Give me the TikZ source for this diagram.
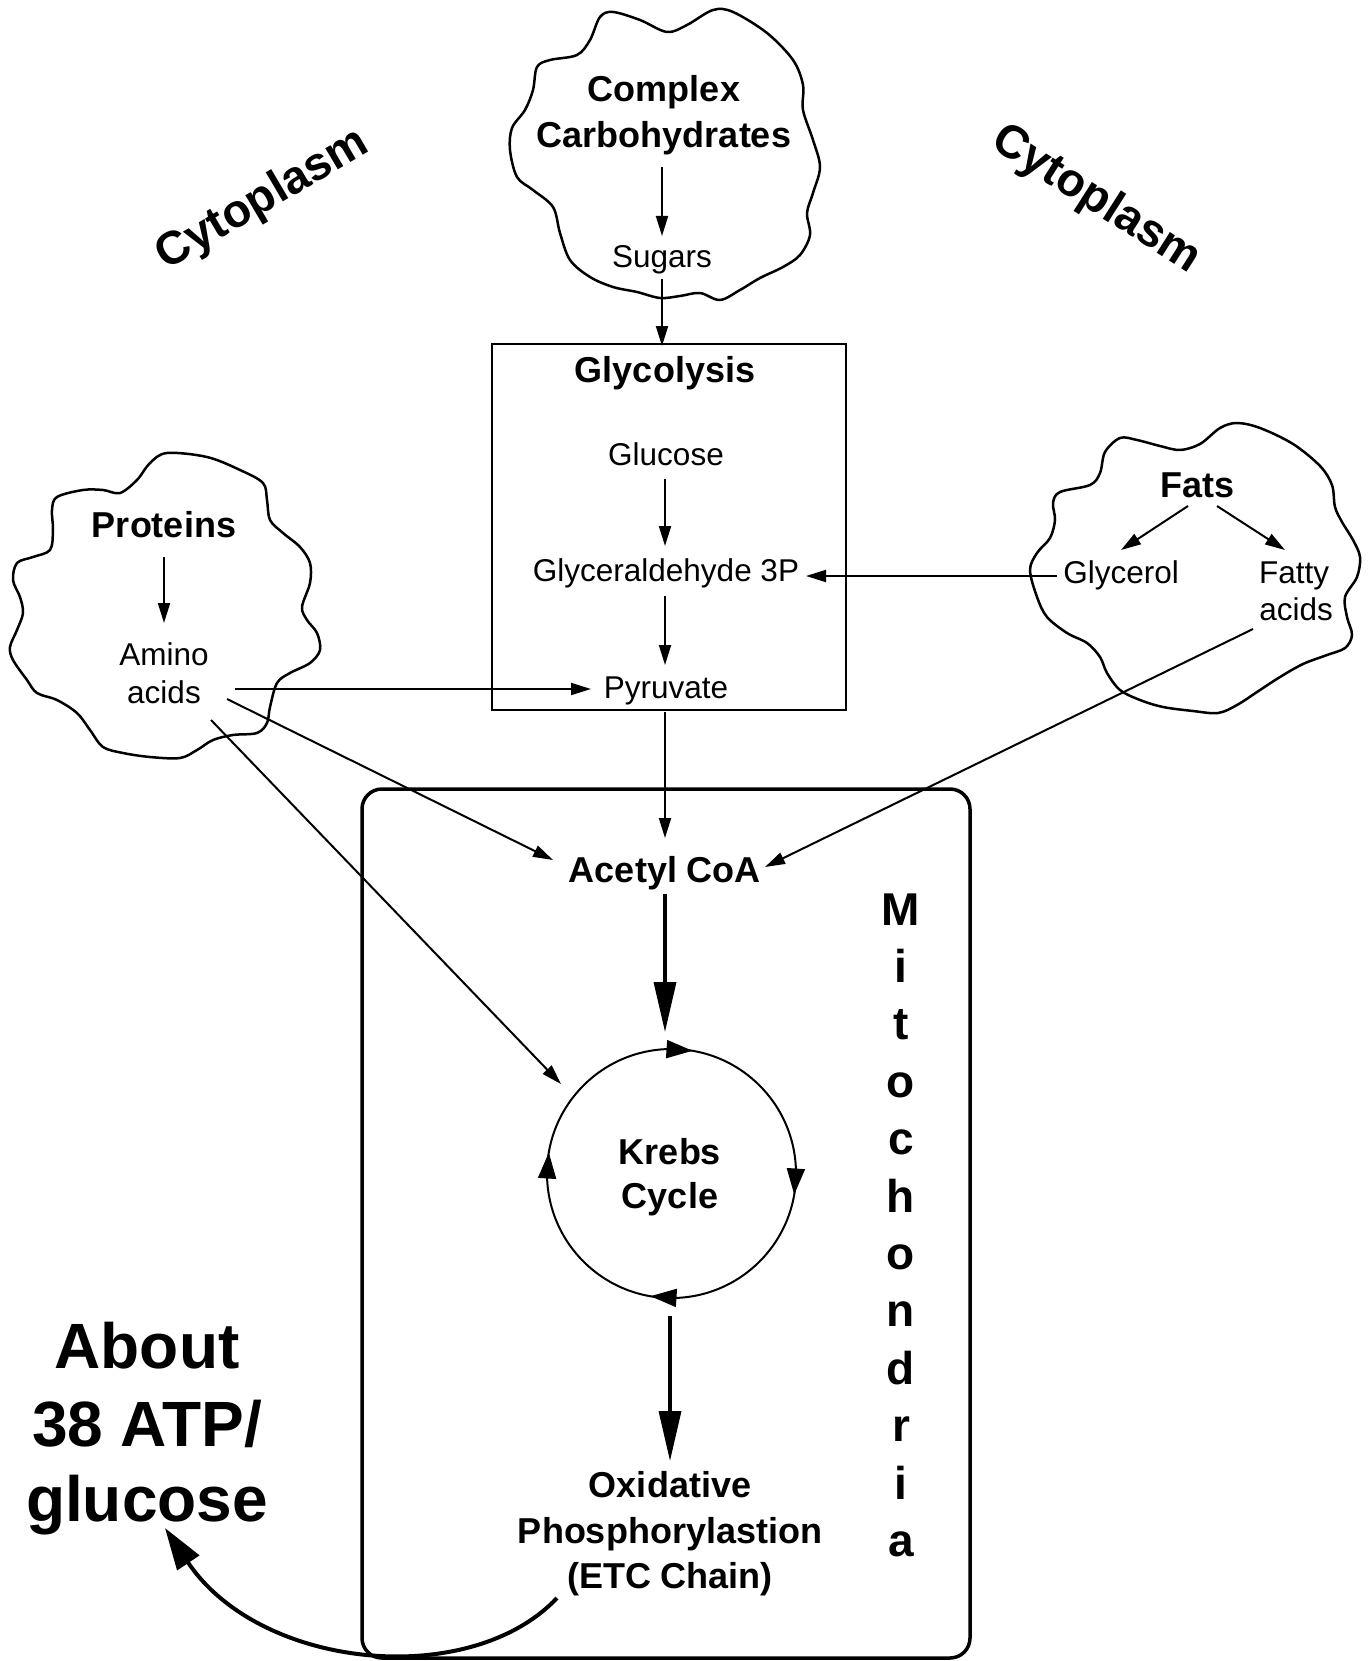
\documentclass[tikz,border=0pt]{standalone}
\usepackage{fontspec}
\setmainfont{Liberation Sans}
\usetikzlibrary{arrows.meta}
\begin{document}
\begin{tikzpicture}[x=1pt,y=-1pt,
  reg/.style={font=\fontsize{31.5}{38}\selectfont, inner sep=0pt, anchor=base},
  bld/.style={font=\fontsize{36}{43}\selectfont\bfseries, inner sep=0pt, anchor=base},
  atp/.style={font=\fontsize{64}{77}\selectfont\bfseries, inner sep=0pt, anchor=base},
  cyto/.style={font=\fontsize{46.5}{55}\selectfont\bfseries, inner sep=0pt},
  mitol/.style={font=\fontsize{46}{55}\selectfont\bfseries, inner sep=0pt, anchor=base},
  thinarrow/.style={line width=2pt, -{Triangle[length=20pt,width=12pt]}},
  thickarrow/.style={line width=3.5pt, -{Triangle[length=50pt,width=22pt]}},
  cyclearrow/.style={line width=2pt, -{Triangle[length=26pt,width=18pt]}},
  cloudline/.style={line width=2.5pt, line join=round},
]
\useasboundingbox (0,0) rectangle (1367,1661);
\fill[white] (0,0) rectangle (1367,1661);

% clouds
\draw[cloudline] plot[smooth cycle, tension=0.55] coordinates {(600,17) (613,12) (640,20) (667,32) (687,25) (713,10) (733,12) (767,33) (793,60) (803,85) (803,110) (813,140) (820,167) (813,193) (807,213) (810,235) (800,255) (783,267) (760,278) (740,290) (720,300) (700,293) (680,296) (660,298) (637,292) (613,287) (590,277) (570,260) (560,233) (553,207) (533,190) (517,177) (510,150) (512,128) (525,110) (533,90) (537,67) (550,60) (577,55) (590,40)};
\draw[cloudline] plot[smooth cycle, tension=0.55] coordinates {(167,453) (207,457) (240,470) (263,483) (267,500) (270,520) (283,533) (300,547) (310,563) (310,583) (302,607) (307,620) (317,633) (320,650) (310,663) (290,673) (277,683) (270,707) (267,723) (257,733) (233,735) (213,740) (197,750) (180,758) (150,757) (123,753) (103,747) (90,730) (77,713) (57,700) (37,693) (27,680) (13,660) (10,647) (17,630) (23,613) (20,597) (13,580) (17,563) (33,557) (50,550) (53,530) (52,510) (57,497) (83,490) (103,490) (120,493) (137,480) (150,463)};
\draw[cloudline] plot[smooth cycle, tension=0.55] coordinates {(1120,438) (1137,440) (1160,446) (1180,450) (1200,444) (1220,428) (1237,423) (1260,428) (1293,444) (1320,466) (1332,485) (1335,507) (1342,522) (1353,540) (1360,557) (1357,577) (1345,597) (1347,617) (1352,635) (1345,648) (1327,655) (1303,664) (1280,677) (1260,690) (1237,705) (1218,713) (1193,711) (1163,707) (1140,700) (1120,690) (1107,673) (1100,657) (1087,643) (1067,633) (1047,617) (1037,597) (1030,570) (1037,553) (1050,538) (1055,520) (1053,503) (1060,492) (1090,485) (1100,473) (1105,452)};

% boxes
\node[draw, line width=2pt, minimum width=354pt, minimum height=366pt, inner sep=0pt] (glybox) at (669,527) {};
\node[draw, line width=3.5pt, rounded corners=20pt, minimum width=608pt, minimum height=869pt, inner sep=0pt] (mitobox) at (666,1223.5) {};

% texts
\node[bld] (complex) at (664,102) {Complex};
\node[bld] (carbo) at (664,148) {Carbohydrates};
\node[reg] (sugars) at (662,268) {Sugars};
\node[bld] (glyco) at (665,382) {Glycolysis};
\node[reg] (glucose) at (666,465) {Glucose};
\node[reg] (g3p) at (666,581) {Glyceraldehyde 3P};
\node[reg] (pyr) at (666,698) {Pyruvate};
\node[bld] (proteins) at (164,537) {Proteins};
\node[reg] (amino1) at (164,665) {Amino};
\node[reg] (amino2) at (164,703) {acids};
\node[bld] (fats) at (1197,497) {Fats};
\node[reg] (glycerol) at (1121,583) {Glycerol};
\node[reg] (fatty1) at (1294,583) {Fatty};
\node[reg] (fatty2) at (1296,620) {acids};
\node[bld] (acetyl) at (665,882) {Acetyl CoA};
\node[bld] (krebs1) at (670,1164) {Krebs};
\node[bld] (krebs2) at (670,1208) {Cycle};
\node[bld] (ox1) at (670,1497) {Oxidative};
\node[bld] (ox2) at (670,1543) {Phosphorylastion};
\node[bld] (ox3) at (670,1588) {(ETC Chain)};
\node[atp] (atp1) at (147,1368) {About};
\node[atp] (atp2) at (147,1446) {38 ATP/};
\node[atp] (atp3) at (147,1521) {glucose};
\node[cyto, rotate=30.5] (cytoL) at (263,200) {Cytoplasm};
\node[cyto, rotate=-32.5] (cytoR) at (1096,200) {Cytoplasm};
\foreach \l [count=\i from 0] in {M,i,t,o,c,h,o,n,d,r,i,a}
  \node[mitol] (m\i) at (901,{925+57.4*\i}) {\l};

% Krebs circle
\node[circle, draw, line width=2pt, minimum size=249pt, inner sep=0pt] (kc) at (671.5,1173.5) {};
\coordinate (k1a) at (666.5,1049.1); \coordinate (k1b) at (692.5,1050.8);
\coordinate (k2a) at (795.9,1168.5); \coordinate (k2b) at (794.2,1194.5);
\coordinate (k3a) at (676.5,1297.9); \coordinate (k3b) at (650.5,1296.2);
\coordinate (k4a) at (547.1,1178.5); \coordinate (k4b) at (548.8,1152.5);
\draw[cyclearrow] (k1a) -- (k1b);
\draw[cyclearrow] (k2a) -- (k2b);
\draw[cyclearrow] (k3a) -- (k3b);
\draw[cyclearrow] (k4a) -- (k4b);

% connector end points
\coordinate (cA) at (662,167);  \coordinate (cB) at (662,236);
\coordinate (sA) at (662,279);  \coordinate (sB) at (662,346);
\coordinate (gA) at (665,479);  \coordinate (gB) at (665,546);
\coordinate (hA) at (665,596);  \coordinate (hB) at (665,665);
\coordinate (pA) at (665,712);  \coordinate (pB) at (665,838);
\coordinate (prA) at (164,557); \coordinate (prB) at (164,623);
\coordinate (amA) at (235,689); \coordinate (amB) at (591,689);
\coordinate (amC) at (227,699); \coordinate (amD) at (553,860);
\coordinate (amE) at (211,720); \coordinate (amF) at (561,1084);
\coordinate (fA) at (1188,506); \coordinate (fB) at (1121,550);
\coordinate (fC) at (1217,506); \coordinate (fD) at (1285,550);
\coordinate (glA) at (1057,576); \coordinate (glB) at (806,576);
\coordinate (faA) at (1253,629); \coordinate (faB) at (765,867);
\coordinate (acA) at (665,894); \coordinate (acB) at (665,1032);
\coordinate (krA) at (670,1316); \coordinate (krB) at (670,1461);
\coordinate (etA) at (557,1598); \coordinate (etB) at (165,1528);

\draw[thinarrow] (cA) -- (cB);
\draw[thinarrow] (sA) -- (sB);
\draw[thinarrow] (gA) -- (gB);
\draw[thinarrow] (hA) -- (hB);
\draw[thinarrow] (pA) -- (pB);
\draw[thinarrow] (prA) -- (prB);
\draw[thinarrow] (amA) -- (amB);
\draw[thinarrow] (amC) -- (amD);
\draw[thinarrow] (amE) -- (amF);
\draw[thinarrow] (fA) -- (fB);
\draw[thinarrow] (fC) -- (fD);
\draw[thinarrow] (glA) -- (glB);
\draw[thinarrow] (faA) -- (faB);
\draw[thickarrow] (acA) -- (acB);
\draw[thickarrow] (krA) -- (krB);
\draw[line width=4pt, -{Triangle[length=42pt,width=26pt]}] (etA) .. controls (470,1690) and (260,1670) .. (etB);
\end{tikzpicture}
\end{document}
